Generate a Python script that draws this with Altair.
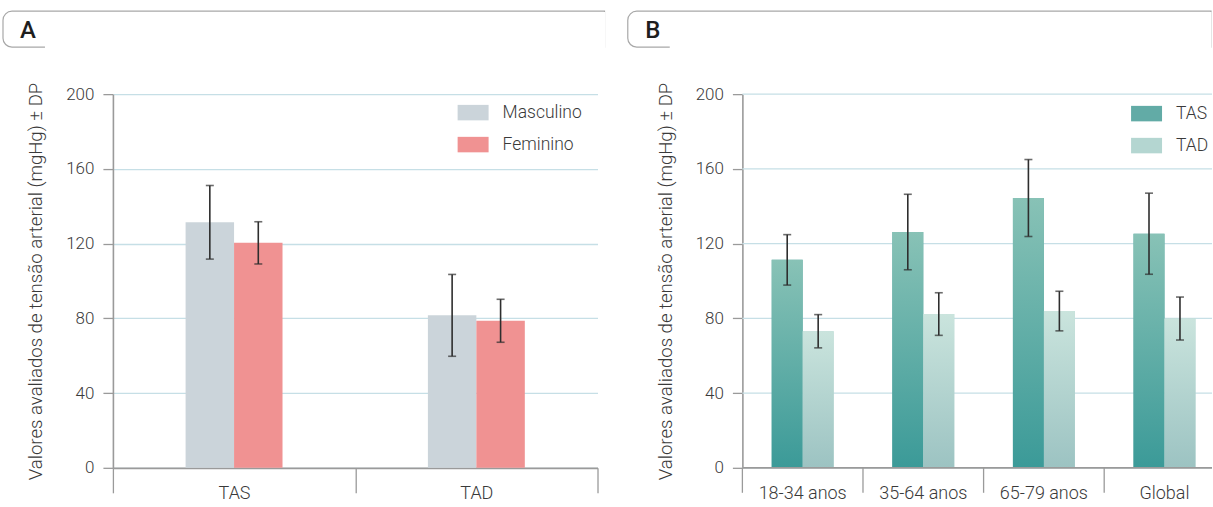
import altair as alt
import pandas as pd

# ---- Panel A: blood pressure by sex ----
measure_groups = ["TAS", "TAD"]
sexes = ["Masculino", "Feminino"]
sex_colors = ["#CBD4DA", "#F09292"]
# rows: TAS-Masculino, TAS-Feminino, TAD-Masculino, TAD-Feminino
sex_group = ["TAS", "TAS", "TAD", "TAD"]
sex_label = ["Masculino", "Feminino", "Masculino", "Feminino"]
sex_mean = [131.4, 120.4, 81.6, 78.7]
sex_sd = [19.7, 11.3, 21.9, 11.5]

# ---- Panel B: blood pressure by age group ----
age_groups = ["18-34 anos", "35-64 anos", "65-79 anos", "Global"]
measures = ["TAS", "TAD"]
tas_mean = [111.3, 126.2, 144.4, 125.3]
tas_sd = [13.5, 20.2, 20.6, 21.7]
tad_mean = [73.1, 82.3, 83.9, 79.9]
tad_sd = [8.9, 11.4, 10.6, 11.5]

y_ticks = [0, 40, 80, 120, 160, 200]
y_title = "Valores avaliados de tensão arterial (mgHg) ± DP"

FONT = "Roboto"
TEXT = "#3a3a3a"
AXIS = "#9a9a9a"
GRID = "#C6DFE6"
ERR = "#2e2e2e"
H = 374
W_A = 485
W_B = 470
STEP_B = 120.7

df_a = pd.DataFrame({"grupo": sex_group, "sexo": sex_label,
                     "media": sex_mean, "dp": sex_sd})
df_a["lo"] = df_a["media"] - df_a["dp"]
df_a["hi"] = df_a["media"] + df_a["dp"]

df_b = pd.DataFrame({
    "idade": age_groups * 2,
    "medida": ["TAS"] * 4 + ["TAD"] * 4,
    "media": tas_mean + tad_mean,
    "dp": tas_sd + tad_sd,
})
df_b["lo"] = df_b["media"] - df_b["dp"]
df_b["hi"] = df_b["media"] + df_b["dp"]

y_scale = alt.Scale(domain=[0, 200], nice=False)


def y_axis(grid=True):
    return alt.Axis(values=y_ticks, title=y_title, grid=grid,
                    gridColor=GRID, gridWidth=1.3,
                    domainColor=AXIS, domainWidth=1.6,
                    tickColor=AXIS, tickSize=10, tickWidth=1.3,
                    labelPadding=9, labelFontSize=17, labelColor=TEXT,
                    labelFontWeight=300,
                    titleFontSize=18.6, titleColor=TEXT,
                    titleFontWeight=300, titlePadding=20)


def y_enc(field="media", grid=True):
    return alt.Y(f"{field}:Q", scale=y_scale, axis=y_axis(grid))


def legend(x, y):
    return alt.Legend(orient="none", legendX=x, legendY=y,
                      title=None, padding=0,
                      symbolType="M-1,-0.5H1V0.5H-1Z",
                      symbolSize=961, symbolStrokeWidth=0,
                      symbolOpacity=1,
                      labelFontSize=17.5, labelColor=TEXT,
                      labelFontWeight=300, labelOffset=14,
                      rowPadding=8)


def header(letter, left, right, cover_right):
    """Tab-shaped frame with the panel letter above the plot area."""
    d = pd.DataFrame({"painel": [letter]})
    frame = alt.Chart(d).mark_rect(
        fill="white", fillOpacity=0, stroke="#a8a8a8", strokeWidth=1.2,
        cornerRadiusTopLeft=9, cornerRadiusBottomLeft=9,
    ).encode(x=alt.value(left), x2=alt.value(right),
             y=alt.value(-83), y2=alt.value(-47))
    cover = alt.Chart(d).mark_rect(fill="white", strokeWidth=0).encode(
        x=alt.value(left + 42), x2=alt.value(cover_right),
        y=alt.value(-82.2), y2=alt.value(-45))
    label = alt.Chart(d).mark_text(
        font=FONT, fontSize=24, fontWeight=500, color="#1e1e1e",
        align="center", baseline="middle",
    ).encode(x=alt.value(left + 25), y=alt.value(-63), text="painel:N")
    return [frame, cover, label]


# ---------------- Panel A ----------------
step_a = W_A / len(measure_groups)
x_a = alt.X("grupo:N", sort=measure_groups,
            scale=alt.Scale(domain=measure_groups, paddingInner=0, paddingOuter=0),
            axis=alt.Axis(title=None, tickBand="extent", tickSize=25,
                          tickColor=AXIS, tickWidth=1.3,
                          domainColor=AXIS, domainWidth=1.8,
                          labelPadding=-8, labelFontSize=18,
                          labelColor=TEXT, labelFontWeight=300, labelAngle=0))
xo_a = alt.XOffset("sexo:N", sort=sexes,
                   scale=alt.Scale(domain=sexes, paddingInner=0, paddingOuter=0,
                                   range=[step_a * 0.3, step_a * 0.7]))

base_a = alt.Chart(df_a)
bars_a = base_a.mark_bar().encode(
    x=x_a, xOffset=xo_a, y=y_enc(),
    color=alt.Color("sexo:N", sort=sexes,
                    scale=alt.Scale(domain=sexes, range=sex_colors),
                    legend=legend(345, 3)),
)
err_a = base_a.mark_rule(color=ERR, strokeWidth=1.6).encode(
    x=x_a, xOffset=xo_a, y="lo:Q", y2="hi:Q")
cap_lo_a = base_a.mark_tick(color=ERR, size=8, thickness=1.6).encode(
    x=x_a, xOffset=xo_a, y="lo:Q")
cap_hi_a = base_a.mark_tick(color=ERR, size=8, thickness=1.6).encode(
    x=x_a, xOffset=xo_a, y="hi:Q")

panel_a = alt.layer(
    bars_a, err_a, cap_lo_a, cap_hi_a,
    *header("A", -110, W_A + 7, W_A + 7.6)
).properties(width=W_A, height=H)

# ---------------- Panel B ----------------
# the last age band runs past the panel's right edge, so the category axis
# (labels and band dividers) is drawn with marks on the same band scale
x_scale_b = alt.Scale(domain=age_groups, paddingInner=0, paddingOuter=0,
                      range=[0, STEP_B * len(age_groups)])
x_b = alt.X("idade:N", sort=age_groups, scale=x_scale_b, axis=None)
xo_b = alt.XOffset("medida:N", sort=measures,
                   scale=alt.Scale(domain=measures, paddingInner=0, paddingOuter=0,
                                   range=[STEP_B / 2 - 31, STEP_B / 2 + 31]))


def gradient(top, bottom):
    return alt.Gradient(
        gradient="linear",
        stops=[alt.GradientStop(color=top, offset=0),
               alt.GradientStop(color=bottom, offset=1)],
        x1=0, x2=0, y1=0, y2=1)


# horizontal grid drawn as rules so it stops at the panel edge
grid_b = alt.Chart(pd.DataFrame({"nivel": y_ticks})).mark_rule(
    color=GRID, strokeWidth=1.3).encode(
    y=alt.Y("nivel:Q", scale=y_scale, axis=y_axis(False)),
    x=alt.value(0), x2=alt.value(W_B))

base_b = alt.Chart(df_b)
flat_b = base_b.mark_bar().encode(
    x=x_b, xOffset=xo_b, y=y_enc(grid=False),
    color=alt.Color("medida:N", sort=measures,
                    scale=alt.Scale(domain=measures, range=["#62ABA6", "#B4D6D1"]),
                    legend=legend(389, 4)),
)
tas_b = base_b.transform_filter(alt.datum.medida == "TAS").mark_bar(
    fill=gradient("#88C2B6", "#3B9A98")).encode(x=x_b, xOffset=xo_b, y=y_enc(grid=False))
tad_b = base_b.transform_filter(alt.datum.medida == "TAD").mark_bar(
    fill=gradient("#CAE4DD", "#9CC3C2")).encode(x=x_b, xOffset=xo_b, y=y_enc(grid=False))
baseline_b = alt.Chart(pd.DataFrame({"zero": [0]})).mark_rule(
    color=AXIS, strokeWidth=1.8).encode(
    y=alt.Y("zero:Q", scale=y_scale, axis=y_axis(False)),
    x=alt.value(0), x2=alt.value(W_B))
err_b = base_b.mark_rule(color=ERR, strokeWidth=1.6).encode(
    x=x_b, xOffset=xo_b, y="lo:Q", y2="hi:Q")
cap_lo_b = base_b.mark_tick(color=ERR, size=8, thickness=1.6).encode(
    x=x_b, xOffset=xo_b, y="lo:Q")
cap_hi_b = base_b.mark_tick(color=ERR, size=8, thickness=1.6).encode(
    x=x_b, xOffset=xo_b, y="hi:Q")

cats_b = alt.Chart(pd.DataFrame({"idade": age_groups}))
dividers_b = cats_b.mark_rule(color=AXIS, strokeWidth=1.3).encode(
    x=alt.X("idade:N", sort=age_groups, scale=x_scale_b, axis=None,
            bandPosition=0),
    y=alt.value(H), y2=alt.value(H + 25))
labels_b = cats_b.mark_text(
    font=FONT, fontSize=18, fontWeight=300, color=TEXT,
    align="center", baseline="top").encode(
    x=alt.X("idade:N", sort=age_groups, scale=x_scale_b, axis=None,
            bandPosition=0.5),
    y=alt.value(H + 17), text="idade:N")

panel_b = alt.layer(
    grid_b, flat_b, tas_b, tad_b, baseline_b, err_b, cap_lo_b, cap_hi_b,
    dividers_b, labels_b,
    *header("B", -114.7, W_B - 1, W_B - 0.5)
).properties(width=W_B, height=H)

chart = alt.hconcat(panel_a, panel_b, spacing=21).resolve_scale(
    x="independent", y="independent", color="independent",
    xOffset="independent",
).resolve_legend(color="independent").properties(
    padding={"left": 2, "top": 10, "right": 0, "bottom": 0}
).configure_view(strokeWidth=0).configure_axis(
    labelFont=FONT, titleFont=FONT
).configure_legend(labelFont=FONT).configure_text(font=FONT)

chart.save("out.html", embed_options={"renderer": "svg", "actions": False})
